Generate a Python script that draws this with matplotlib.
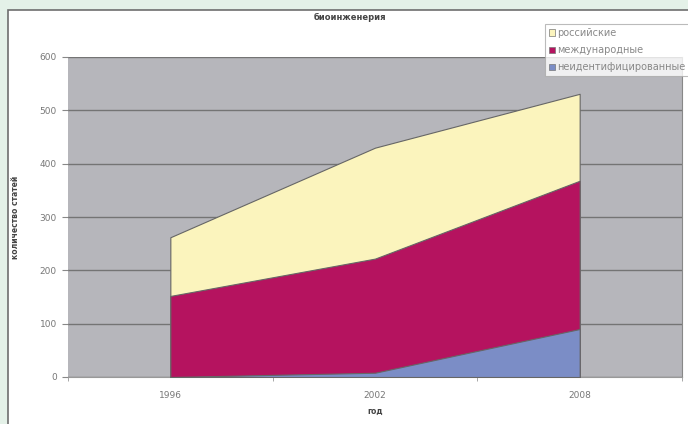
import numpy as np
import matplotlib.pyplot as plt
from matplotlib.patches import Rectangle

years = ["1996", "2002", "2008"]
russian = [262, 430, 531]
international = [152, 222, 368]
unidentified = [0, 8, 90]
series_names = ["российские", "международные", "неидентифицированные"]
colors = ["#fbf4bd", "#b5135f", "#7b8dc6"]

fig = plt.figure(figsize=(6.88, 4.24), dpi=100)
fig.patch.set_facecolor("#e4f1e8")

# white panel with a dark frame
panel = Rectangle((8 / 688, -0.01), 1, 1 - 10 / 424 + 0.01, transform=fig.transFigure,
                  facecolor="white", edgecolor="#6e6e6e", linewidth=1.2, zorder=-10)
fig.patches.append(panel)

ax = fig.add_axes([68 / 688, 1 - 377 / 424, (682 - 68) / 688, (377 - 57) / 424])
ax.set_facecolor("#b6b6bb")

x = np.arange(len(years))
for vals, c in zip([russian, international, unidentified], colors):
    ax.fill_between(x, 0, vals, facecolor=c, edgecolor="#666666", linewidth=0.8, zorder=3)

ax.set_xlim(-0.5, 2.5)
ax.set_ylim(0, 600)
ax.set_yticks(range(0, 601, 100))
ax.set_xticks(x)
ax.set_xticklabels(years)
ax.set_xticks([-0.5, 0.5, 1.5, 2.5], minor=True)
ax.tick_params(axis="x", which="major", length=0, pad=10, labelsize=6.5, labelcolor="#777777")
ax.tick_params(axis="x", which="minor", length=3, color="#999999")
ax.tick_params(axis="y", length=4, color="#888888", labelsize=6.5, labelcolor="#777777", pad=4)
ax.grid(axis="y", color="#747474", linewidth=1.0, zorder=1)
ax.set_axisbelow(True)

for s in ["top", "left"]:
    ax.spines[s].set_visible(False)
ax.spines["right"].set_color("#888888")
ax.spines["bottom"].set_color("#999999")

ax.set_xlabel("год", fontsize=5.5, fontweight="bold", color="#444444", labelpad=5)
ax.set_ylabel("количество статей", fontsize=5.5, fontweight="bold", color="#444444", labelpad=14)
fig.text(350 / 688, 1 - 17 / 424, "биоинженерия", ha="center", va="center",
         fontsize=6, fontweight="bold", color="#444444")

handles = [Rectangle((0, 0), 1, 1, facecolor=c, edgecolor="#777777", linewidth=0.5) for c in colors]
leg = fig.legend(handles, series_names, loc="upper right", bbox_to_anchor=(1.002, 1 - 24 / 424),
                 fontsize=7, frameon=True, fancybox=False, handlelength=0.6, handleheight=0.6,
                 handletextpad=0.25, labelspacing=0.75, borderpad=0.4, borderaxespad=0.0,
                 labelcolor="#888888")
leg.get_frame().set_edgecolor("#aaaaaa")
leg.get_frame().set_linewidth(0.8)

fig.savefig("out.png", dpi=100, facecolor=fig.get_facecolor())
